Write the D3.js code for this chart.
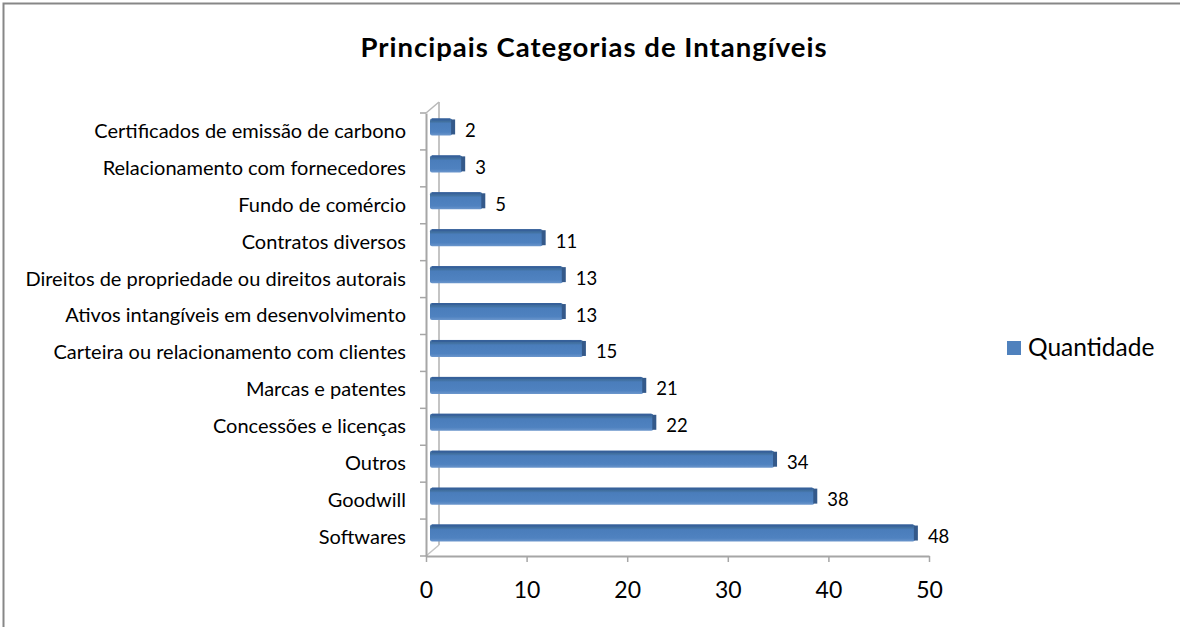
<!DOCTYPE html>
<html>
<head>
<meta charset="utf-8">
<script src="https://cdn.jsdelivr.net/npm/d3@7"></script>
<style>
  body { margin: 0; background: #fff; }
  svg { display: block; font-family: Lato, sans-serif; }
</style>
</head>
<body>
<svg id="chart" width="1180" height="627"></svg>
<script>
// categories top to bottom, as shown
const categories = [
  "Certificados de emissão de carbono",
  "Relacionamento com fornecedores",
  "Fundo de comércio",
  "Contratos diversos",
  "Direitos de propriedade ou direitos autorais",
  "Ativos intangíveis em desenvolvimento",
  "Carteira ou relacionamento com clientes",
  "Marcas e patentes",
  "Concessões e licenças",
  "Outros",
  "Goodwill",
  "Softwares"
];
const quantidade = [2, 3, 5, 11, 13, 13, 15, 21, 22, 34, 38, 48];
const xTicks = [0, 10, 20, 30, 40, 50];
const seriesName = "Quantidade";
const title = "Principais Categorias de Intangíveis";

const svg = d3.select("#chart");
const W = 1180, H = 627;

// outer frame (only top/left visible)
svg.append("path")
  .attr("d", `M3.5,${H} V3.5 H${W}`)
  .attr("fill", "none")
  .attr("stroke", "#878787")
  .attr("stroke-width", 2);

// title
svg.append("text")
  .attr("x", 594)
  .attr("y", 57)
  .attr("text-anchor", "middle")
  .attr("font-size", 27.5)
  .attr("letter-spacing", 1)
  .attr("font-weight", "bold")
  .text(title);

const x = d3.scaleLinear().domain([0, 50]).range([426, 929]);
const y = d3.scaleBand().domain(categories).range([113, 556]);
const depth = { dx: 13, dy: -11 };

// gradient for the bars
const defs = svg.append("defs");
const grad = defs.append("linearGradient")
  .attr("id", "barGrad").attr("x1", 0).attr("y1", 0).attr("x2", 0).attr("y2", 1);
grad.append("stop").attr("offset", "0%").attr("stop-color", "#3d6aa3");
grad.append("stop").attr("offset", "18%").attr("stop-color", "#41709f");
grad.append("stop").attr("offset", "30%").attr("stop-color", "#4a7dbb");
grad.append("stop").attr("offset", "80%").attr("stop-color", "#4f82c0");
grad.append("stop").attr("offset", "100%").attr("stop-color", "#6b96cc");

// walls
const wall = svg.append("g").attr("fill", "none");
wall.append("line")
  .attr("x1", x(0) + depth.dx).attr("x2", x(0) + depth.dx)
  .attr("y1", 113 + depth.dy).attr("y2", 556 + depth.dy)
  .attr("stroke", "#c4c4c4").attr("stroke-width", 2);
wall.append("line")
  .attr("x1", x(0)).attr("y1", 113)
  .attr("x2", x(0) + depth.dx).attr("y2", 113 + depth.dy)
  .attr("stroke", "#b8b8b8").attr("stroke-width", 1.5);
wall.append("line")
  .attr("x1", x(0)).attr("y1", 556)
  .attr("x2", x(0) + depth.dx).attr("y2", 556 + depth.dy)
  .attr("stroke", "#c4c4c4").attr("stroke-width", 1.5);

// bars
const bh = 17;
const bars = svg.append("g").selectAll("g")
  .data(categories)
  .join("g");

const cy = d => y(d) + y.bandwidth() / 2;

bars.append("rect")
  .attr("x", x(0) + 4)
  .attr("y", d => cy(d) - 13)
  .attr("width", (d, i) => x(quantidade[i]) + 6 - (x(0) + 4))
  .attr("height", bh)
  .attr("rx", 2)
  .attr("fill", "url(#barGrad)");

// right end face
bars.append("rect")
  .attr("x", (d, i) => x(quantidade[i]) + 5)
  .attr("y", d => cy(d) - 12)
  .attr("width", 4)
  .attr("height", bh - 2)
  .attr("fill", "#34598a");

// top edge
bars.append("rect")
  .attr("x", x(0) + 6)
  .attr("y", d => cy(d) - 13)
  .attr("width", (d, i) => x(quantidade[i]) + 2 - (x(0) + 4))
  .attr("height", 2)
  .attr("fill", "#36609a");

// value labels
bars.append("text")
  .attr("x", (d, i) => x(quantidade[i]) + 19)
  .attr("y", d => cy(d) + 5.5)
  .attr("font-size", 18.5)
  .attr("fill", "#000")
  .text((d, i) => quantidade[i]);

// y axis
const yAxis = svg.append("g")
  .attr("transform", `translate(${x(0)},0)`)
  .call(d3.axisLeft(y).tickSize(0).tickPadding(20).tickFormat(d => d));
yAxis.select(".domain").attr("stroke", "#a6a6a6").attr("stroke-width", 2);
yAxis.selectAll(".tick text")
  .attr("font-size", 20)
  .attr("fill", "#000")
  .attr("font-family", "Lato, sans-serif")
  .attr("dy", "0.32em");

// y tick marks at band boundaries
const yBounds = categories.map(c => y(c)).concat([556]);
svg.append("g").selectAll("line")
  .data(yBounds)
  .join("line")
  .attr("x1", x(0) - 6).attr("x2", x(0))
  .attr("y1", d => d).attr("y2", d => d)
  .attr("stroke", "#a6a6a6").attr("stroke-width", 1.5);

// x axis
const xAxis = svg.append("g")
  .attr("transform", "translate(0,556)")
  .call(d3.axisBottom(x).tickValues(xTicks).tickSize(6).tickPadding(20).tickSizeOuter(0));
xAxis.select(".domain").attr("stroke", "#a6a6a6").attr("stroke-width", 2);
xAxis.selectAll(".tick line").attr("stroke", "#a6a6a6").attr("stroke-width", 1.5);
xAxis.selectAll(".tick text")
  .attr("font-size", 23)
  .attr("fill", "#000")
  .attr("font-family", "Lato, sans-serif");

// legend
const legend = svg.append("g").attr("transform", "translate(1007,341)");
legend.append("rect").attr("width", 14).attr("height", 14).attr("fill", "#4f81bd");
legend.append("text")
  .attr("x", 21).attr("y", 15)
  .attr("font-size", 24.5)
  .attr("fill", "#000")
  .text(seriesName);
</script>
</body>
</html>
